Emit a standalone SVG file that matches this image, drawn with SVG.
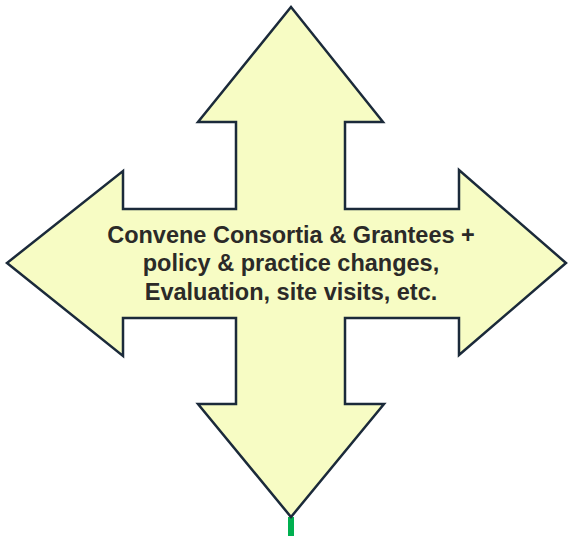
<svg xmlns="http://www.w3.org/2000/svg" width="568" height="536" viewBox="0 0 568 536">
<style>
.shape{fill:#F7FCC4;stroke:#1B2A3A;stroke-width:2.5;stroke-linejoin:miter}
.lbl{font-family:"Liberation Sans",Arial,sans-serif;font-weight:bold;font-size:23.5px;fill:#2B2A28;text-anchor:middle}
</style>
<rect width="568" height="536" fill="#FFFFFF"/>
<g id="connectors">
<line x1="291" y1="517" x2="291" y2="536" stroke="#00B050" stroke-width="6"/>
</g>
<g id="cross-arrow">
<polygon class="shape" points="291,7 383,122 345,122 345,209 459,209 459,170 566,263 459,355 459,318 345,318 345,404 384,404 291,517 198,404 236,404 236,318 123,318 123,356 7,263 123,171 123,209 236,209 236,122 198,122"/>
<text class="lbl" x="291" y="243">Convene Consortia &amp; Grantees +</text>
<text class="lbl" x="291" y="271">policy &amp; practice changes,</text>
<text class="lbl" x="291" y="299.5">Evaluation, site visits, etc.</text>
</g>
</svg>
